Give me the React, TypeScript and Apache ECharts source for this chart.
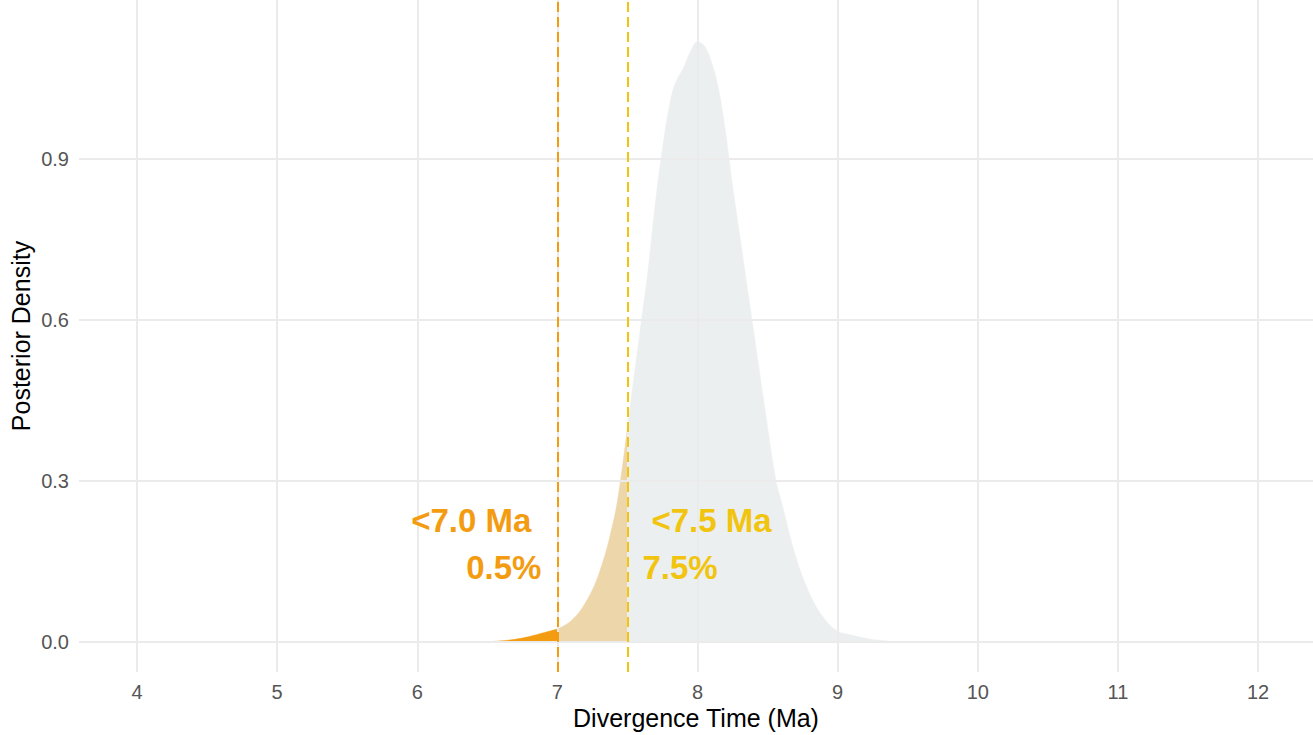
import React, { useEffect, useRef } from "react";
import * as echarts from "echarts";

const densityX = [6.48, 6.6, 6.7, 6.8, 6.9, 7.0, 7.1, 7.2, 7.3, 7.4, 7.45, 7.5, 7.6, 7.65, 7.7, 7.75, 7.8, 7.84, 7.9, 7.95, 8.0, 8.05, 8.1, 8.15, 8.2, 8.25, 8.3, 8.35, 8.4, 8.5, 8.56, 8.6, 8.7, 8.8, 8.9, 9.0, 9.1, 9.2, 9.3, 9.45];
const densityY = [0, 0.002, 0.005, 0.01, 0.017, 0.024, 0.04, 0.073, 0.13, 0.225, 0.3, 0.4, 0.6, 0.7, 0.82, 0.92, 1.0, 1.04, 1.07, 1.1, 1.118, 1.11, 1.08, 1.03, 0.95, 0.85, 0.76, 0.67, 0.58, 0.4, 0.3, 0.26, 0.16, 0.09, 0.045, 0.02, 0.013, 0.007, 0.003, 0];

const xTicks = [4, 5, 6, 7, 8, 9, 10, 11, 12];
const yTicks = [0, 0.3, 0.6, 0.9];
const thresholds = [7.0, 7.5];
const thresholdLabels = ["<7.0 Ma", "<7.5 Ma"];
const thresholdPercents = ["0.5%", "7.5%"];

const X_MIN = 3.586;
const X_MAX = 12.392;
const Y_MIN = -0.056;
const Y_MAX = 1.196;

const FONT = "Liberation Sans, Arial, Helvetica, sans-serif";
const ORANGE = "#F39C12";
const YELLOW = "#F1C40F";

function segment(lo: number, hi: number): number[][] {
  const out: number[][] = [];
  for (let i = 0; i < densityX.length; i++) {
    if (densityX[i] >= lo && densityX[i] <= hi) out.push([densityX[i], densityY[i]]);
  }
  return out;
}

export default function App() {
  const ref = useRef<HTMLDivElement>(null);
  useEffect(() => {
    document.body.style.margin = "0";
    if (!ref.current) return;
    const chart = echarts.init(ref.current, undefined, { renderer: "svg" });
    const areaSeries = (data: number[][], color: string) => ({
      type: "line",
      data,
      showSymbol: false,
      symbol: "none",
      smooth: 0.4,
      lineStyle: { width: 0.5, color },
      itemStyle: { color },
      areaStyle: { color, opacity: 1 },
      z: 3,
      silent: true,
    });
    const tickLabel = (text: string) => ({
      show: true,
      position: "start",
      distance: 10,
      formatter: text,
      fontFamily: FONT,
      fontSize: 20,
      color: "#555555",
    });
    chart.setOption({
      animation: false,
      grid: { left: 78, right: 0, top: 0, bottom: 63 },
      xAxis: {
        type: "value",
        min: X_MIN,
        max: X_MAX,
        axisLine: { show: false },
        axisTick: { show: false },
        axisLabel: { show: false },
        splitLine: { show: false },
        name: "Divergence Time (Ma)",
        nameLocation: "middle",
        nameGap: 33,
        nameTextStyle: { fontFamily: FONT, fontSize: 25, color: "#000" },
      },
      yAxis: {
        type: "value",
        min: Y_MIN,
        max: Y_MAX,
        axisLine: { show: false },
        axisTick: { show: false },
        axisLabel: { show: false },
        splitLine: { show: false },
        name: "Posterior Density",
        nameLocation: "middle",
        nameGap: 46,
        nameRotate: 90,
        nameTextStyle: { fontFamily: FONT, fontSize: 25, color: "#000" },
      },
      series: [
        {
          type: "line",
          data: [],
          z: 1,
          silent: true,
          markLine: {
            silent: true,
            symbol: "none",
            animation: false,
            lineStyle: { color: "#EBEBEB", width: 2, type: "solid" },
            data: [
              ...yTicks.map((v) => ({ yAxis: v, label: tickLabel(v.toFixed(1)) })),
              ...xTicks.map((v) => ({ xAxis: v, label: tickLabel(String(v)) })),
            ],
          },
        },
        areaSeries(segment(-Infinity, thresholds[0]), ORANGE),
        areaSeries(segment(thresholds[0], thresholds[1]), "#EED6AB"),
        areaSeries(segment(thresholds[1], Infinity), "#ECEFF0"),
        {
          type: "line",
          data: [],
          z: 5,
          silent: true,
          markLine: {
            silent: true,
            symbol: "none",
            animation: false,
            label: { show: false },
            data: [
              { xAxis: thresholds[0], lineStyle: { color: ORANGE, width: 2, type: [10, 5] } },
              { xAxis: thresholds[1], lineStyle: { color: YELLOW, width: 2, type: [10, 5] } },
            ],
          },
        },
      ],
    });
    const p0 = chart.convertToPixel({ gridIndex: 0 }, [thresholds[0], 0.2255]) as number[];
    const p0b = chart.convertToPixel({ gridIndex: 0 }, [thresholds[0], 0.138]) as number[];
    const p1 = chart.convertToPixel({ gridIndex: 0 }, [thresholds[1], 0.2255]) as number[];
    const p1b = chart.convertToPixel({ gridIndex: 0 }, [thresholds[1], 0.138]) as number[];
    const ts = (text: string, color: string, align: string) => ({
      text,
      fill: color,
      font: `bold 33px ${FONT}`,
      align,
      verticalAlign: "middle",
    });
    chart.setOption({
      graphic: [
        { type: "text", x: p0[0] - 26, y: p0[1], z: 10, style: ts(thresholdLabels[0], ORANGE, "right") },
        { type: "text", x: p0b[0] - 16, y: p0b[1], z: 10, style: ts(thresholdPercents[0], ORANGE, "right") },
        { type: "text", x: p1[0] + 24, y: p1[1], z: 10, style: ts(thresholdLabels[1], YELLOW, "left") },
        { type: "text", x: p1b[0] + 15, y: p1b[1], z: 10, style: ts(thresholdPercents[1], YELLOW, "left") },
      ],
    });
    return () => chart.dispose();
  }, []);
  return <div ref={ref} style={{ width: 1313, height: 735 }} />;
}
